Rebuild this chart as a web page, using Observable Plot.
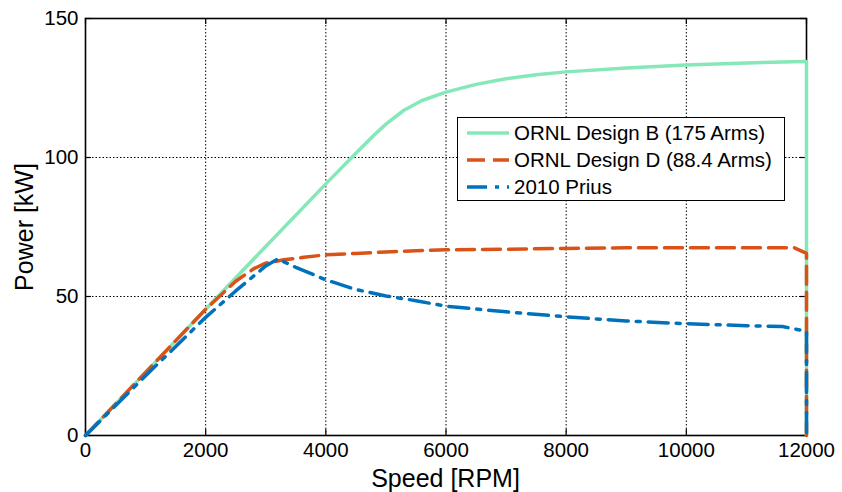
<!DOCTYPE html>
<html>
<head>
<meta charset="utf-8">
<script src="https://cdn.jsdelivr.net/npm/d3@7"></script>
<script src="https://cdn.jsdelivr.net/npm/@observablehq/plot@0.6"></script>
<style>
  html, body { margin: 0; padding: 0; background: #fff; }
  #wrap { position: relative; width: 842px; height: 492px; font-family: "Liberation Sans", Arial, sans-serif; }
  .axlabel { position: absolute; font-size: 25px; color: #000; white-space: nowrap; line-height: 28px; }
  #legend { position: absolute; left: 457px; top: 117px; width: 328px; height: 84px; border: 1.5px solid #000; background: #fff; box-sizing: border-box; padding-top: 2px; }
  .row { display: flex; align-items: center; height: 26.8px; font-size: 20.5px; }
  .row svg { margin-left: 9px; margin-right: 5px; }
</style>
</head>
<body>
<div id="wrap"></div>
<script>
// ---- data ----
const seriesNames = ["ORNL Design B (175 Arms)", "ORNL Design D (88.4 Arms)", "2010 Prius"];
const designBSpeed = [0, 1000, 2000, 3000, 4000, 4500, 4800, 5000, 5300, 5600, 6000, 6500, 7000, 7500, 8000, 9000, 10000, 11000, 11950, 12000, 12000];
const designBPower = [0, 22.7, 45.4, 68, 90.5, 101.5, 108, 112, 117, 120.5, 123.5, 126.3, 128.3, 129.8, 130.8, 132.2, 133.3, 134, 134.5, 134.5, 0];
const designDSpeed = [0, 1000, 2000, 2500, 2800, 3000, 3300, 3600, 4000, 4500, 5000, 5500, 6000, 7000, 8000, 9000, 10000, 11000, 11800, 12000, 12000];
const designDPower = [0, 22.7, 45.4, 55.5, 60, 62, 63.2, 64, 65, 65.5, 66, 66.5, 66.8, 67, 67.3, 67.5, 67.5, 67.5, 67.5, 65.5, 0];
const priusSpeed = [0, 1000, 2000, 2500, 3000, 3200, 3500, 4000, 4500, 5000, 5500, 6000, 7000, 8000, 9000, 10000, 11000, 11600, 12000, 12000];
const priusPower = [0, 21.5, 42.5, 52, 61, 63.5, 60.5, 56, 52.5, 50.2, 48.5, 46.5, 44.5, 42.7, 41.2, 40.2, 39.5, 39.2, 37.5, 0];
const xTicks = [0, 2000, 4000, 6000, 8000, 10000, 12000];
const yTicks = [0, 50, 100, 150];

const colors = ["#86e8b8", "#d95319", "#0072bd"];
const dashes = [null, "18,8", "20,8,4,8"];

const rows = (sx, sy) => sx.map((s, i) => ({speed: s, power: sy[i]}));
const bRows = rows(designBSpeed, designBPower);
const dRows = rows(designDSpeed, designDPower);
const pRows = rows(priusSpeed, priusPower);

const W = 842, H = 492, mL = 85, mR = 36, mT = 18, mB = 57;
const innerH = H - mT - mB, innerW = W - mL - mR;

const chart = Plot.plot({
  width: W, height: H,
  marginLeft: mL, marginRight: mR, marginTop: mT, marginBottom: mB,
  style: {fontFamily: '"Liberation Sans", Arial, sans-serif', fontSize: "20px", color: "#000", background: "#fff"},
  x: {domain: [0, 12000], label: null},
  y: {domain: [0, 150], label: null},
  marks: [
    Plot.gridX(xTicks, {stroke: "#000", strokeOpacity: 1, strokeWidth: 1, strokeDasharray: "1.5,2"}),
    Plot.gridY(yTicks, {stroke: "#000", strokeOpacity: 1, strokeWidth: 1, strokeDasharray: "1.5,2"}),
    Plot.tickX(xTicks, {x: d => d, insetTop: innerH - 6, stroke: "#000", strokeWidth: 1.2}),
    Plot.tickX(xTicks, {x: d => d, insetBottom: innerH - 6, stroke: "#000", strokeWidth: 1.2}),
    Plot.tickY(yTicks, {y: d => d, insetRight: innerW - 6, stroke: "#000", strokeWidth: 1.2}),
    Plot.tickY(yTicks, {y: d => d, insetLeft: innerW - 6, stroke: "#000", strokeWidth: 1.2}),
    Plot.frame({stroke: "#000", strokeWidth: 1.6}),
    Plot.line(bRows, {x: "speed", y: "power", stroke: colors[0], strokeWidth: 3.5}),
    Plot.line(dRows, {x: "speed", y: "power", stroke: colors[1], strokeWidth: 3.5, strokeDasharray: dashes[1]}),
    Plot.line(pRows, {x: "speed", y: "power", stroke: colors[2], strokeWidth: 3.5, strokeDasharray: dashes[2]}),
    Plot.axisX(xTicks, {tickSize: 0, tickPadding: 7, tickFormat: d => String(d), label: null, fontSize: 20.5}),
    Plot.axisY(yTicks, {tickSize: 0, tickPadding: 7, tickFormat: d => String(d), label: null, fontSize: 20.5})
  ]
});

const wrap = document.getElementById("wrap");
wrap.appendChild(chart);

const xl = document.createElement("div");
xl.className = "axlabel";
xl.textContent = "Speed [RPM]";
xl.style.left = (mL + innerW / 2) + "px";
xl.style.top = "464px";
xl.style.transform = "translateX(-50%)";
wrap.appendChild(xl);

const yl = document.createElement("div");
yl.className = "axlabel";
yl.textContent = "Power [kW]";
yl.style.left = "24px";
yl.style.top = (mT + innerH / 2) + "px";
yl.style.transform = "translate(-50%, -50%) rotate(-90deg)";
wrap.appendChild(yl);

const leg = document.createElement("div");
leg.id = "legend";
seriesNames.forEach((name, i) => {
  const r = document.createElement("div");
  r.className = "row";
  const dash = dashes[i] ? ` stroke-dasharray="${dashes[i]}"` : "";
  r.innerHTML = `<svg width="42" height="8"><line x1="0" y1="4" x2="42" y2="4" stroke="${colors[i]}" stroke-width="3.5"${dash}/></svg><span>${name}</span>`;
  leg.appendChild(r);
});
wrap.appendChild(leg);
</script>
</body>
</html>
